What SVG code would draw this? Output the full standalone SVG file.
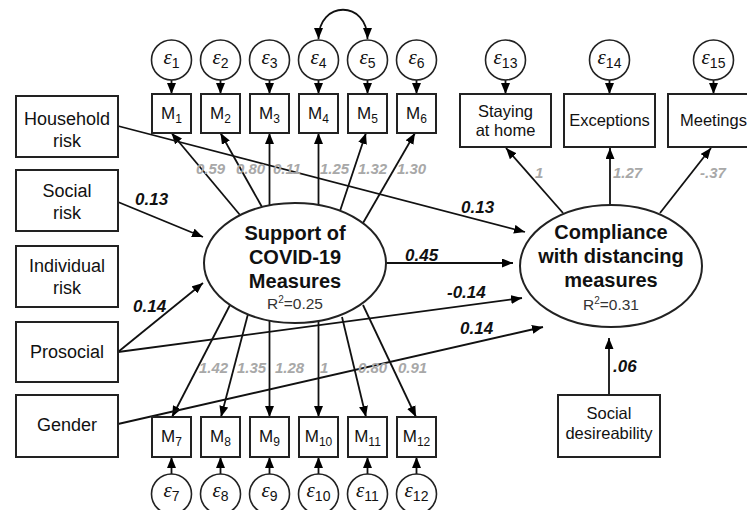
<svg xmlns="http://www.w3.org/2000/svg" width="747" height="510" viewBox="0 0 747 510">
<defs>
<marker id="ah" viewBox="0 0 11 9" refX="11" refY="4.5" markerWidth="11" markerHeight="9" markerUnits="userSpaceOnUse" orient="auto-start-reverse"><path d="M0,0 L11,4.5 L0,9 z" fill="#000"/></marker>
</defs>
<style>
text{font-family:"Liberation Sans",Arial,sans-serif;fill:#111}
.box{fill:#fff;stroke:#222;stroke-width:2}
.circ{fill:#fff;stroke:#222;stroke-width:1.6}
.ell{fill:#fff;stroke:#222;stroke-width:2}
.lbl{font-size:18px;text-anchor:middle}
.lbl16{font-size:16.5px;text-anchor:middle}
.m{font-size:17px;text-anchor:middle}
.sub{font-size:12px}
.eps{font-family:"Liberation Serif","DejaVu Serif",serif;font-style:italic;font-size:21px}
.esub{font-size:14px}
.big{font-size:20px;font-weight:bold;text-anchor:middle}
.r2{font-size:15.5px;text-anchor:middle;fill:#333}
.sup{font-size:10px}
.g{font-size:15px;font-weight:bold;font-style:italic;fill:#a8a8a8}
.k{font-size:17px;font-weight:bold;font-style:italic;fill:#111}
.c line,.c path{stroke:#111;stroke-width:1.8;fill:none;marker-end:url(#ah)}
</style>

<g id="connectors" class="c">
<line x1="171.5" y1="80" x2="171.5" y2="94"/>
<line x1="220.5" y1="80" x2="220.5" y2="94"/>
<line x1="269.5" y1="80" x2="269.5" y2="94"/>
<line x1="318.5" y1="80" x2="318.5" y2="94"/>
<line x1="367.5" y1="80" x2="367.5" y2="94"/>
<line x1="416.5" y1="80" x2="416.5" y2="94"/>
<line x1="505.5" y1="80" x2="505.5" y2="94"/>
<line x1="609.5" y1="80" x2="609.5" y2="94"/>
<line x1="713.5" y1="80" x2="713.5" y2="94"/>
<line x1="171.5" y1="474" x2="171.5" y2="457"/>
<line x1="220.5" y1="474" x2="220.5" y2="457"/>
<line x1="269.5" y1="474" x2="269.5" y2="457"/>
<line x1="318.5" y1="474" x2="318.5" y2="457"/>
<line x1="367.5" y1="474" x2="367.5" y2="457"/>
<line x1="416.5" y1="474" x2="416.5" y2="457"/>
<path d="M318.5,39 C318.5,0 367.5,0 367.5,39" style="marker-start:url(#ah)"/>
<line x1="240" y1="215" x2="171.5" y2="133"/>
<line x1="262" y1="207" x2="220.5" y2="133"/>
<line x1="269.5" y1="205" x2="269.5" y2="133"/>
<line x1="318.5" y1="205" x2="318.5" y2="133"/>
<line x1="340" y1="211" x2="366" y2="133"/>
<line x1="363" y1="223" x2="415" y2="133"/>
<line x1="230" y1="305" x2="172" y2="417"/>
<line x1="248" y1="314" x2="221" y2="417"/>
<line x1="269.5" y1="321" x2="269.5" y2="417"/>
<line x1="318.5" y1="321" x2="318.5" y2="417"/>
<line x1="342" y1="317" x2="366" y2="417"/>
<line x1="363" y1="305" x2="416" y2="417"/>
<line x1="563" y1="213" x2="506" y2="148"/>
<line x1="610" y1="205" x2="610" y2="148"/>
<line x1="660" y1="213" x2="711" y2="148"/>
<line x1="118" y1="126" x2="525" y2="232"/>
<line x1="118" y1="202" x2="203" y2="237"/>
<line x1="118" y1="352" x2="203" y2="283"/>
<line x1="118" y1="352" x2="522" y2="298"/>
<line x1="118" y1="424" x2="543" y2="327"/>
<line x1="386" y1="263" x2="513" y2="263"/>
<line x1="609" y1="395" x2="609" y2="338"/>
</g>

<g id="errors">
<g id="e1"><circle class="circ" cx="171.5" cy="60" r="20"/><text x="171.5" y="64" text-anchor="middle"><tspan class="eps">ε</tspan><tspan class="esub" dy="4">1</tspan></text></g>
<g id="e2"><circle class="circ" cx="220.5" cy="60" r="20"/><text x="220.5" y="64" text-anchor="middle"><tspan class="eps">ε</tspan><tspan class="esub" dy="4">2</tspan></text></g>
<g id="e3"><circle class="circ" cx="269.5" cy="60" r="20"/><text x="269.5" y="64" text-anchor="middle"><tspan class="eps">ε</tspan><tspan class="esub" dy="4">3</tspan></text></g>
<g id="e4"><circle class="circ" cx="318.5" cy="60" r="20"/><text x="318.5" y="64" text-anchor="middle"><tspan class="eps">ε</tspan><tspan class="esub" dy="4">4</tspan></text></g>
<g id="e5"><circle class="circ" cx="367.5" cy="60" r="20"/><text x="367.5" y="64" text-anchor="middle"><tspan class="eps">ε</tspan><tspan class="esub" dy="4">5</tspan></text></g>
<g id="e6"><circle class="circ" cx="416.5" cy="60" r="20"/><text x="416.5" y="64" text-anchor="middle"><tspan class="eps">ε</tspan><tspan class="esub" dy="4">6</tspan></text></g>
<g id="e13"><circle class="circ" cx="505.5" cy="60" r="20"/><text x="505.5" y="64" text-anchor="middle"><tspan class="eps">ε</tspan><tspan class="esub" dy="4">13</tspan></text></g>
<g id="e14"><circle class="circ" cx="609.5" cy="60" r="20"/><text x="609.5" y="64" text-anchor="middle"><tspan class="eps">ε</tspan><tspan class="esub" dy="4">14</tspan></text></g>
<g id="e15"><circle class="circ" cx="713.5" cy="60" r="20"/><text x="713.5" y="64" text-anchor="middle"><tspan class="eps">ε</tspan><tspan class="esub" dy="4">15</tspan></text></g>
<g id="e7"><circle class="circ" cx="171.5" cy="494" r="20"/><text x="171.5" y="497" text-anchor="middle"><tspan class="eps">ε</tspan><tspan class="esub" dy="4">7</tspan></text></g>
<g id="e8"><circle class="circ" cx="220.5" cy="494" r="20"/><text x="220.5" y="497" text-anchor="middle"><tspan class="eps">ε</tspan><tspan class="esub" dy="4">8</tspan></text></g>
<g id="e9"><circle class="circ" cx="269.5" cy="494" r="20"/><text x="269.5" y="497" text-anchor="middle"><tspan class="eps">ε</tspan><tspan class="esub" dy="4">9</tspan></text></g>
<g id="e10"><circle class="circ" cx="318.5" cy="494" r="20"/><text x="318.5" y="497" text-anchor="middle"><tspan class="eps">ε</tspan><tspan class="esub" dy="4">10</tspan></text></g>
<g id="e11"><circle class="circ" cx="367.5" cy="494" r="20"/><text x="367.5" y="497" text-anchor="middle"><tspan class="eps">ε</tspan><tspan class="esub" dy="4">11</tspan></text></g>
<g id="e12"><circle class="circ" cx="416.5" cy="494" r="20"/><text x="416.5" y="497" text-anchor="middle"><tspan class="eps">ε</tspan><tspan class="esub" dy="4">12</tspan></text></g>
</g>

<g id="indicators">
<g id="M1"><rect class="box" x="152" y="94" width="39" height="39"/><text class="m" x="171.5" y="119">M<tspan class="sub" dy="4">1</tspan></text></g>
<g id="M2"><rect class="box" x="201" y="94" width="39" height="39"/><text class="m" x="220.5" y="119">M<tspan class="sub" dy="4">2</tspan></text></g>
<g id="M3"><rect class="box" x="250" y="94" width="39" height="39"/><text class="m" x="269.5" y="119">M<tspan class="sub" dy="4">3</tspan></text></g>
<g id="M4"><rect class="box" x="299" y="94" width="39" height="39"/><text class="m" x="318.5" y="119">M<tspan class="sub" dy="4">4</tspan></text></g>
<g id="M5"><rect class="box" x="348" y="94" width="39" height="39"/><text class="m" x="367.5" y="119">M<tspan class="sub" dy="4">5</tspan></text></g>
<g id="M6"><rect class="box" x="397" y="94" width="39" height="39"/><text class="m" x="416.5" y="119">M<tspan class="sub" dy="4">6</tspan></text></g>
<g id="M7"><rect class="box" x="152" y="417" width="39" height="40"/><text class="m" x="171.5" y="442">M<tspan class="sub" dy="4">7</tspan></text></g>
<g id="M8"><rect class="box" x="201" y="417" width="39" height="40"/><text class="m" x="220.5" y="442">M<tspan class="sub" dy="4">8</tspan></text></g>
<g id="M9"><rect class="box" x="250" y="417" width="39" height="40"/><text class="m" x="269.5" y="442">M<tspan class="sub" dy="4">9</tspan></text></g>
<g id="M10"><rect class="box" x="299" y="417" width="39" height="40"/><text class="m" x="318.5" y="442">M<tspan class="sub" dy="4">10</tspan></text></g>
<g id="M11"><rect class="box" x="348" y="417" width="39" height="40"/><text class="m" x="367.5" y="442">M<tspan class="sub" dy="4">11</tspan></text></g>
<g id="M12"><rect class="box" x="397" y="417" width="39" height="40"/><text class="m" x="416.5" y="442">M<tspan class="sub" dy="4">12</tspan></text></g>
<g id="staying"><rect class="box" x="460" y="94" width="91" height="53"/><text class="lbl16" x="505.5" y="117">Staying</text><text class="lbl16" x="505.5" y="136">at home</text></g>
<g id="exceptions"><rect class="box" x="564" y="94" width="91" height="53"/><text class="lbl16" x="609.5" y="126">Exceptions</text></g>
<g id="meetings"><rect class="box" x="668" y="94" width="91" height="53"/><text class="lbl16" x="713.5" y="126">Meetings</text></g>
</g>

<g id="predictors">
<g id="household"><rect class="box" x="16" y="96" width="102" height="61"/><text class="lbl" x="67" y="125">Household</text><text class="lbl" x="67" y="147">risk</text></g>
<g id="social"><rect class="box" x="16" y="170" width="102" height="61"/><text class="lbl" x="67" y="197">Social</text><text class="lbl" x="67" y="219">risk</text></g>
<g id="individual"><rect class="box" x="16" y="246" width="102" height="61"/><text class="lbl" x="67" y="272">Individual</text><text class="lbl" x="67" y="294">risk</text></g>
<g id="prosocial"><rect class="box" x="16" y="322" width="102" height="60"/><text class="lbl" x="67" y="358">Prosocial</text></g>
<g id="gender"><rect class="box" x="16" y="395" width="102" height="62"/><text class="lbl" x="67" y="431">Gender</text></g>
<g id="socdes"><rect class="box" x="558" y="395" width="102" height="62"/><text class="lbl16" x="609" y="419">Social</text><text class="lbl16" x="609" y="439">desireability</text></g>
</g>

<g id="support">
<ellipse class="ell" cx="295" cy="263" rx="91" ry="60"/>
<text class="big" x="295" y="240">Support of</text>
<text class="big" x="295" y="264">COVID-19</text>
<text class="big" x="295" y="288">Measures</text>
<text class="r2" x="295" y="309">R<tspan class="sup" dy="-6">2</tspan><tspan dy="6">=0.25</tspan></text>
</g>
<g id="compliance">
<ellipse class="ell" cx="611" cy="266" rx="91" ry="61"/>
<text class="big" x="611" y="239">Compliance</text>
<text class="big" x="611" y="263">with distancing</text>
<text class="big" x="611" y="287">measures</text>
<text class="r2" x="611" y="310">R<tspan class="sup" dy="-6">2</tspan><tspan dy="6">=0.31</tspan></text>
</g>

<g id="labels">
<text class="g" x="196" y="174">0.59</text>
<text class="g" x="236" y="174">0.80</text>
<text class="g" x="273" y="174">0.11</text>
<text class="g" x="320" y="174">1.25</text>
<text class="g" x="358" y="174">1.32</text>
<text class="g" x="397" y="174">1.30</text>
<text class="g" x="199" y="373">1.42</text>
<text class="g" x="237" y="373">1.35</text>
<text class="g" x="275" y="373">1.28</text>
<text class="g" x="320" y="373">1</text>
<text class="g" x="358" y="373">0.80</text>
<text class="g" x="398" y="373">0.91</text>
<text class="g" x="535" y="178">1</text>
<text class="g" x="613" y="178">1.27</text>
<text class="g" x="700" y="178">-.37</text>
<text class="k" x="135" y="205">0.13</text>
<text class="k" x="133" y="312">0.14</text>
<text class="k" x="461" y="213">0.13</text>
<text class="k" x="405" y="261">0.45</text>
<text class="k" x="447" y="298">-0.14</text>
<text class="k" x="460" y="334">0.14</text>
<text class="k" x="613" y="372">.06</text>
</g>
</svg>
